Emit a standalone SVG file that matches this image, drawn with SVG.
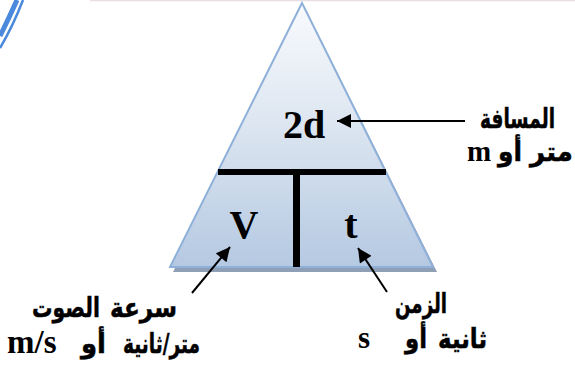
<svg xmlns="http://www.w3.org/2000/svg" width="575" height="367" viewBox="0 0 575 367">
<style>
.lat{font-family:"Liberation Serif","Times New Roman",serif;font-weight:bold;fill:#000}
.ar{font-family:"DejaVu Sans","Liberation Sans",sans-serif;font-weight:bold;fill:#000;font-size:27px;stroke:#000;stroke-width:0.5}
.conn line{stroke:#000;stroke-width:2}
.bar{fill:#000}
</style>
<defs>
<linearGradient id="g" x1="0" y1="0" x2="0" y2="1">
<stop offset="0" stop-color="#f9fbfd"/>
<stop offset="0.45" stop-color="#dde6f1"/>
<stop offset="1" stop-color="#b5c9e2"/>
</linearGradient>
<marker id="ah" viewBox="0 0 10 10" refX="10" refY="5" markerWidth="8" markerHeight="7" markerUnits="strokeWidth" orient="auto">
<path d="M0,0 L10,5 L0,10 z" fill="#000"/>
</marker>
</defs>
<rect width="575" height="367" fill="#fff"/>
<line x1="90" y1="0.5" x2="575" y2="0.5" stroke="#e8dde2" stroke-width="1.5"/>
<g id="border" fill="none" stroke="#4a89dc">
<path d="M17,0 Q9,18 0,36" stroke-width="5"/>
<path d="M23,0 Q13,26 0,48" stroke-width="2.5"/>
</g>
<g id="triangle">
<polygon points="305,8 173,272 437,272" fill="#8e9fb6"/>
<polygon points="302,3 170,267 433,267" fill="url(#g)" stroke="#8fb1d9" stroke-width="2"/>
<rect class="bar" x="218" y="169" width="168" height="6"/>
<rect class="bar" x="293" y="172" width="7" height="95"/>
</g>
<g id="node-2d"><text class="lat" x="304" y="138" font-size="40" text-anchor="middle">2d</text></g>
<g id="node-V"><text class="lat" x="244" y="238" font-size="40" text-anchor="middle">V</text></g>
<g id="node-t"><text class="lat" x="351" y="238" font-size="40" text-anchor="middle">t</text></g>
<g id="label-distance">
<text class="ar" x="480" y="128" textLength="75" lengthAdjust="spacingAndGlyphs">المسافة</text>
<text class="ar" x="530" y="161" textLength="43" lengthAdjust="spacingAndGlyphs">متر</text>
<text class="ar" x="498" y="161" textLength="24" lengthAdjust="spacingAndGlyphs">أو</text>
<text class="lat" x="467" y="161" font-size="29">m</text>
</g>
<g id="label-time">
<text class="ar" x="395" y="313" textLength="52" lengthAdjust="spacingAndGlyphs">الزمن</text>
<text class="ar" x="438" y="348" textLength="49" lengthAdjust="spacingAndGlyphs">ثانية</text>
<text class="ar" x="405" y="348" textLength="22" lengthAdjust="spacingAndGlyphs">أو</text>
<text class="lat" x="358" y="348" font-size="31">s</text>
</g>
<g id="label-speed">
<text class="ar" x="110" y="317" textLength="67" lengthAdjust="spacingAndGlyphs">سرعة</text>
<text class="ar" x="32" y="317" textLength="68" lengthAdjust="spacingAndGlyphs">الصوت</text>
<text class="ar" x="123" y="353" textLength="77" lengthAdjust="spacingAndGlyphs">متر/ثانية</text>
<text class="ar" x="81" y="353" textLength="25" lengthAdjust="spacingAndGlyphs">أو</text>
<text class="lat" x="7" y="353" font-size="33">m/s</text>
</g>
<g id="connectors" class="conn">
<line x1="465" y1="121" x2="337" y2="121" marker-end="url(#ah)"/>
<line x1="192" y1="293" x2="230" y2="247" marker-end="url(#ah)"/>
<line x1="387" y1="292" x2="358" y2="248" marker-end="url(#ah)"/>
</g>
</svg>
